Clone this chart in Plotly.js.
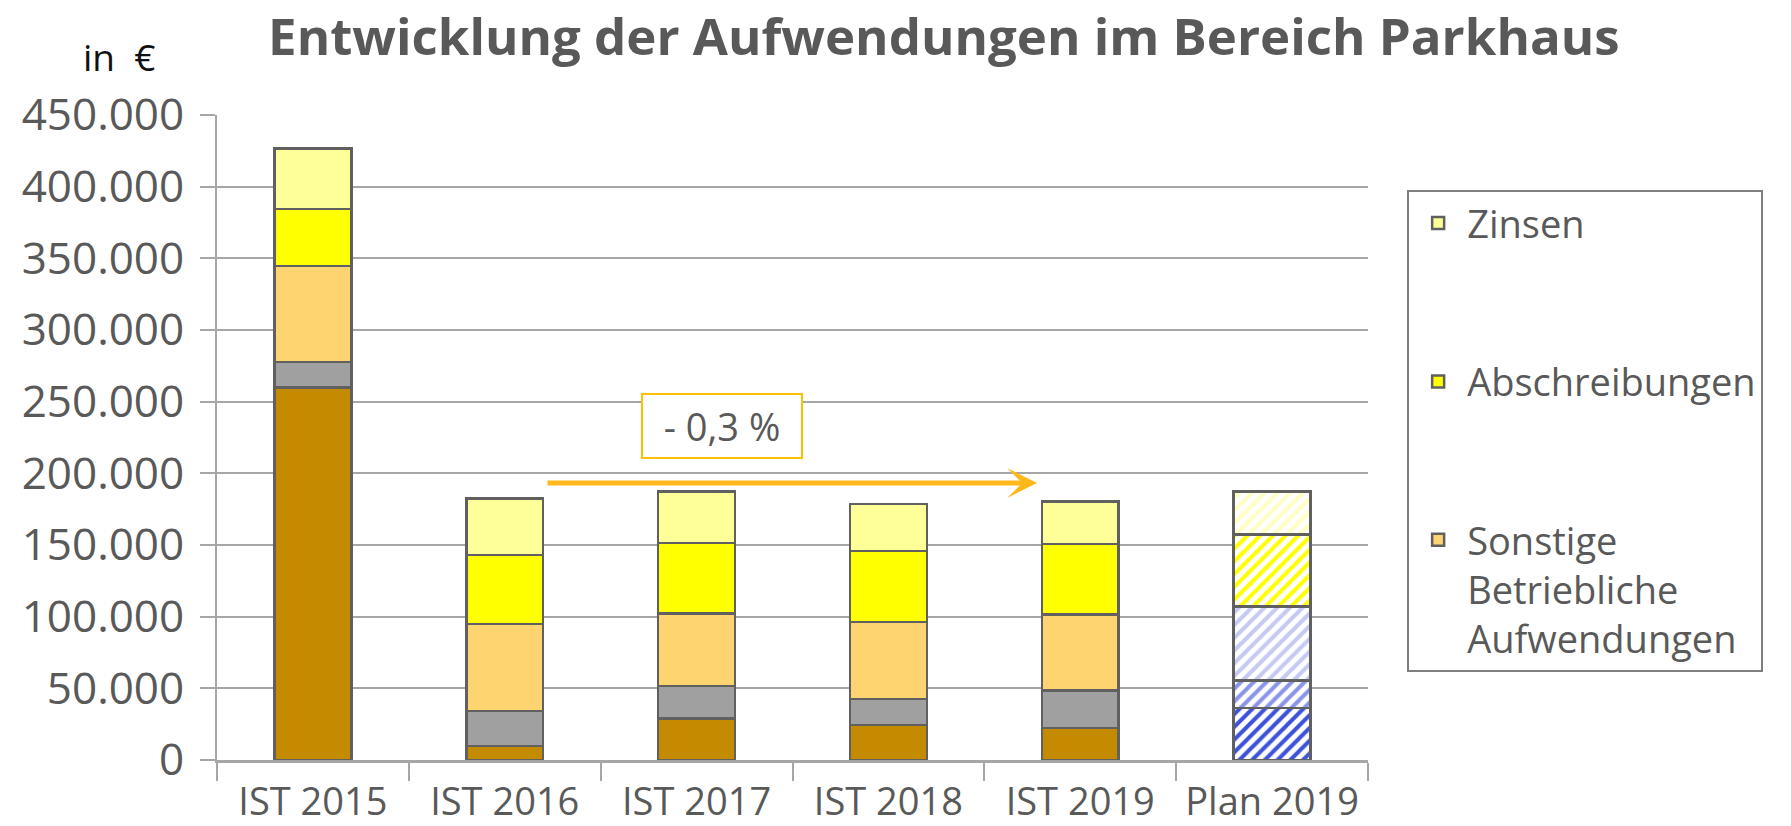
<!DOCTYPE html>
<html>
<head>
<meta charset="utf-8">
<script src="https://cdn.plot.ly/plotly-3.0.1.min.js"></script>
<style>html,body{margin:0;padding:0;background:#fff;}#chart{width:1791px;height:826px;}</style>
</head>
<body>
<div id="chart"></div>
<script>
// ---- data ----
const categories = ['IST 2015', 'IST 2016', 'IST 2017', 'IST 2018', 'IST 2019', 'Plan 2019'];
const personalaufwand = [260000, 9700, 29000, 24400, 22500, 36200];
const materialaufwand = [17600, 24400, 22700, 18300, 26000, 19300];
const sonstige = [67200, 60800, 50400, 53600, 53100, 51500];
const abschreibungen = [39700, 48300, 49400, 49400, 49200, 50500];
const zinsen = [42000, 39400, 35700, 32900, 29700, 29700];
const seriesNames = ['Personalaufwand', 'Materialaufwand', 'Sonstige<br>Betriebliche<br>Aufwendungen', 'Abschreibungen', 'Zinsen'];
const titleText = 'Entwicklung der Aufwendungen im Bereich Parkhaus';
const unitText = 'in  €';
const changeText = '- 0,3 %';

// ---- styles ----
const solidColors = ['#C48A00', '#A0A0A0', '#FED470', '#FFFF00', '#FFFF99'];
const planColors = ['#3D52DA', '#8C94EA', '#C6CAF3', '#FFFF00', '#FFFFC4'];
const inLegend = [false, false, true, true, true];
const legendRanks = [5, 4, 3, 2, 1];
const values = [personalaufwand, materialaufwand, sonstige, abschreibungen, zinsen];
const FONT = 'Open Sans, Noto Sans, sans-serif';
const TXT = '#595959';
const GRID = '#A6A6A6';
const EDGE = {color: '#606060', width: 2.5};

const nIst = categories.length - 1;   // last category is the plan (hatched)
const istTraces = values.map((vals, i) => ({
  type: 'bar',
  name: seriesNames[i],
  x: categories.slice(0, nIst),
  y: vals.slice(0, nIst),
  showlegend: inLegend[i],
  legendgroup: 'g' + i,
  legendrank: legendRanks[i],
  marker: {color: solidColors[i], line: EDGE},
  hovertemplate: '%{x}: %{y:,}<extra>' + seriesNames[i].replace(/<br>/g, ' ') + '</extra>'
}));
const planTraces = values.map((vals, i) => ({
  type: 'bar',
  name: seriesNames[i] + ' (Plan)',
  x: categories.slice(nIst),
  y: vals.slice(nIst),
  showlegend: false,
  legendgroup: 'g' + i,
  marker: {
    color: planColors[i],
    line: EDGE,
    pattern: {shape: '/', fgcolor: planColors[i], bgcolor: '#FFFFFF', size: 9, solidity: 0.45, fillmode: 'replace', fgopacity: 1}
  },
  hovertemplate: '%{x}: %{y:,}<extra>' + seriesNames[i].replace(/<br>/g, ' ') + '</extra>'
}));

const layout = {
  width: 1791,
  height: 826,
  paper_bgcolor: '#FFFFFF',
  plot_bgcolor: '#FFFFFF',
  separators: ',.',
  barmode: 'stack',
  bargap: 0.6,
  margin: {l: 217, r: 423, t: 115, b: 66},
  font: {family: FONT, color: TXT},
  title: {
    text: titleText,
    font: {family: FONT, size: 51, color: TXT, weight: 700},
    xref: 'container', x: 0.527, xanchor: 'center',
    yref: 'container', y: 0.955, yanchor: 'middle'
  },
  xaxis: {
    type: 'category',
    categoryorder: 'array',
    categoryarray: categories,
    tickson: 'boundaries',
    ticks: 'outside', ticklen: 18, tickwidth: 2, tickcolor: GRID,
    showline: true, linecolor: GRID, linewidth: 2.5,
    showgrid: false,
    tickangle: 0,
    tickfont: {family: FONT, size: 38, color: TXT},
    ticklabelstandoff: 7
  },
  yaxis: {
    range: [0, 450000],
    dtick: 50000,
    tickformat: ',',
    showline: true, linecolor: GRID, linewidth: 2,
    showgrid: true, gridcolor: GRID, gridwidth: 2,
    zeroline: false,
    ticks: 'outside', ticklen: 15, tickwidth: 2, tickcolor: GRID,
    tickfont: {family: FONT, size: 44, color: TXT},
    ticklabelstandoff: 7
  },
  legend: {
    x: 1.034, xanchor: 'left',
    y: 0.884, yanchor: 'top',
    traceorder: 'grouped',
    tracegroupgap: 106,
    itemwidth: 48,
    valign: 'top',
    bordercolor: '#7F7F7F', borderwidth: 2,
    bgcolor: '#FFFFFF',
    font: {family: FONT, size: 38, color: TXT}
  },
  annotations: [
    {
      xref: 'paper', yref: 'paper',
      x: -0.085, y: 1.09, xanchor: 'center', yanchor: 'middle',
      text: unitText, showarrow: false,
      font: {family: FONT, size: 37, color: '#111111'}
    },
    {
      xref: 'x', yref: 'y', axref: 'x', ayref: 'y',
      x: 3.775, y: 193200, ax: 1.215, ay: 193200,
      text: '', showarrow: true,
      arrowhead: 3, arrowsize: 1, arrowwidth: 5, arrowcolor: '#FFB81C', standoff: 0
    },
    {
      xref: 'x', yref: 'y',
      x: 2.133, y: 232700, xanchor: 'center', yanchor: 'middle',
      text: changeText, showarrow: false,
      font: {family: FONT, size: 38, color: TXT},
      bordercolor: '#FFC000', borderwidth: 2, borderpad: 2,
      width: 154, height: 58, bgcolor: '#FFFFFF'
    }
  ]
};

Plotly.newPlot('chart', istTraces.concat(planTraces), layout, {displayModeBar: false, staticPlot: true});
</script>
</body>
</html>
